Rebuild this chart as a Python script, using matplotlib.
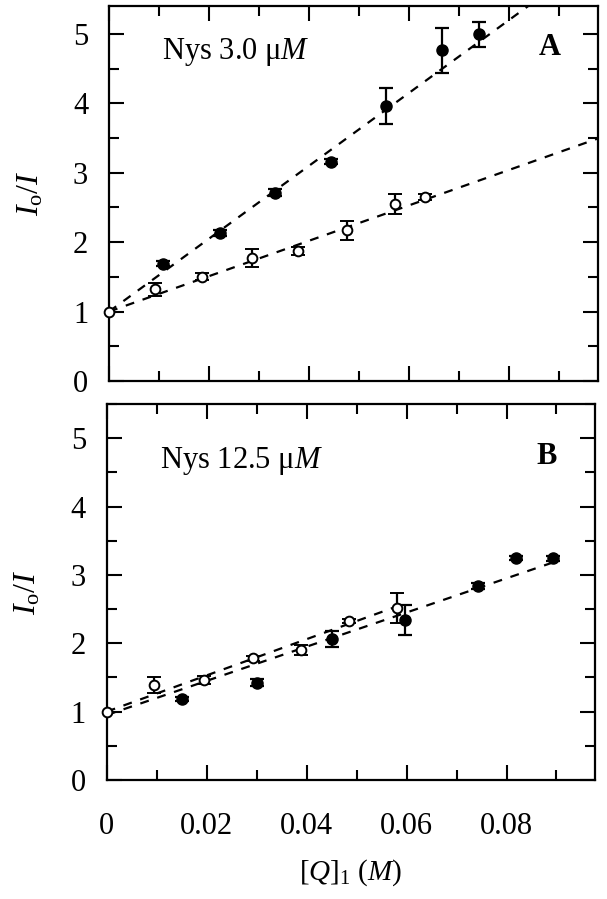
import matplotlib
matplotlib.use("Agg")
import matplotlib.pyplot as plt
import numpy as np
from matplotlib.ticker import MultipleLocator

plt.rcParams['font.family'] = ['Liberation Serif', 'DejaVu Serif']
plt.rcParams['mathtext.fontset'] = 'custom'
plt.rcParams['mathtext.rm'] = 'Liberation Serif'
plt.rcParams['mathtext.it'] = 'Liberation Serif:italic'
plt.rcParams['mathtext.bf'] = 'Liberation Serif:bold'

# Panel A: Nys 3.0 uM
a_fill_x = [0.0108, 0.0222, 0.0331, 0.0443, 0.0554, 0.0666, 0.0739]
a_fill_y = [1.69, 2.13, 2.71, 3.16, 3.96, 4.76, 4.99]
a_fill_err = [0.04, 0.04, 0.05, 0.03, 0.26, 0.33, 0.18]
a_open_x = [0.0, 0.0091, 0.0185, 0.0285, 0.0378, 0.0475, 0.0571, 0.0632]
a_open_y = [1.0, 1.32, 1.50, 1.77, 1.87, 2.17, 2.55, 2.65]
a_open_err = [0.0, 0.09, 0.05, 0.13, 0.06, 0.14, 0.14, 0.04]
a_fill_fit = (1.0, 52.5)   # intercept, slope
a_open_fit = (1.0, 25.5)

# Panel B: Nys 12.5 uM
b_fill_x = [0.0150, 0.0300, 0.0451, 0.0597, 0.0743, 0.0819, 0.0893]
b_fill_y = [1.18, 1.42, 2.06, 2.34, 2.84, 3.25, 3.24]
b_fill_err = [0.03, 0.05, 0.12, 0.22, 0.04, 0.03, 0.03]
b_open_x = [0.0, 0.0095, 0.0195, 0.0293, 0.0388, 0.0485, 0.0580]
b_open_y = [1.0, 1.39, 1.46, 1.78, 1.90, 2.32, 2.51]
b_open_err = [0.0, 0.12, 0.06, 0.04, 0.07, 0.03, 0.22]
b_fill_fit = (0.95, 25.0)
b_open_fit = (1.0, 26.5)

fig = plt.figure(figsize=(6.07, 8.99), dpi=100)
ax1 = fig.add_axes([0.1796, 0.5762, 0.8051, 0.4171])
ax2 = fig.add_axes([0.1758, 0.1324, 0.8044, 0.4182])


def draw_panel(ax, fx, fy, fe, ox, oy, oe, ffit, ofit, fxmax, oxmax, ymax):
    xx = np.linspace(0, fxmax, 50)
    ax.plot(xx, ffit[0] + ffit[1] * xx, color='black', lw=1.6,
            dashes=(4, 4), zorder=1)
    xx = np.linspace(0, oxmax, 50)
    ax.plot(xx, ofit[0] + ofit[1] * xx, color='black', lw=1.6,
            dashes=(4, 4), zorder=1)
    ax.errorbar(fx, fy, yerr=fe, fmt='o', ms=8, mfc='black', mec='black',
                ecolor='black', elinewidth=1.6, capsize=5, capthick=1.6,
                zorder=3)
    eb = ax.errorbar(ox, oy, yerr=oe, fmt='o', ms=7, mfc='white', mec='black',
                     mew=1.4, ecolor='black', elinewidth=1.6, capsize=5,
                     capthick=1.6, zorder=4)
    eb[0].set_clip_on(False)
    ax.set_xlim(0, 0.0977)
    ax.set_ylim(0, ymax)
    ax.xaxis.set_major_locator(MultipleLocator(0.02))
    ax.xaxis.set_minor_locator(MultipleLocator(0.01))
    ax.yaxis.set_major_locator(MultipleLocator(1))
    ax.yaxis.set_minor_locator(MultipleLocator(0.5))
    ax.tick_params(which='both', direction='in', top=True, right=True,
                   width=1.5, labelsize=22)
    ax.tick_params(axis='y', pad=15)
    ax.tick_params(axis='x', pad=23)
    ax.tick_params(which='major', length=11)
    ax.tick_params(which='minor', length=7)
    for s in ax.spines.values():
        s.set_linewidth(1.6)
    ax.set_ylabel(r'$I_{\rm o}/I$', fontsize=23, labelpad=20)


draw_panel(ax1, a_fill_x, a_fill_y, a_fill_err, a_open_x, a_open_y, a_open_err,
           a_fill_fit, a_open_fit, (5.4 - a_fill_fit[0]) / a_fill_fit[1],
           0.0977, 5.4)
draw_panel(ax2, b_fill_x, b_fill_y, b_fill_err, b_open_x, b_open_y, b_open_err,
           b_fill_fit, b_open_fit, 0.089, 0.058, 5.5)

ax1.set_xticklabels([])
ax2.set_xticks([0, 0.02, 0.04, 0.06, 0.08])
ax2.set_xticklabels(['0', '0.02', '0.04', '0.06', '0.08'])
ax2.set_xlabel(r'$[Q]_{\rm 1}$ ($M$)', fontsize=21, labelpad=12)

ax1.text(0.108, 0.86, r'Nys 3.0 μ$M$', transform=ax1.transAxes, fontsize=22)
ax1.text(0.88, 0.87, 'A', transform=ax1.transAxes, fontsize=22,
         fontweight='bold')
ax2.text(0.11, 0.83, r'Nys 12.5 μ$M$', transform=ax2.transAxes, fontsize=22)
ax2.text(0.88, 0.84, 'B', transform=ax2.transAxes, fontsize=22,
         fontweight='bold')

fig.savefig('out.png', dpi=100)
